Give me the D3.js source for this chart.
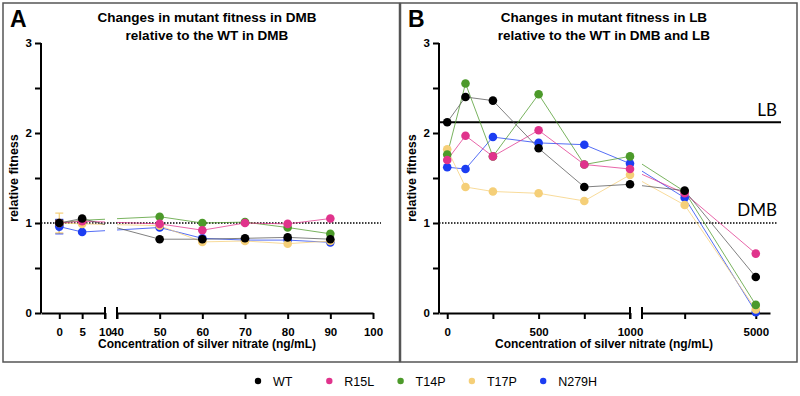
<!DOCTYPE html>
<html><head><meta charset="utf-8">
<script src="https://cdn.jsdelivr.net/npm/d3@7"></script>
<style>body{margin:0;background:#fff}svg{display:block}</style>
</head><body>
<script>
// ---------- data ----------
const seriesNames = ["WT","R15L","T14P","T17P","N279H"];
const seriesColors = ["#000000","#e0338c","#4c9a2a","#f5cf78","#1c3df2"];

const aConc  = [0,5,50,60,70,80,90];
const aWT    = [1.00,1.05,0.82,0.82,0.83,0.84,0.82];
const aR15L  = [1.00,1.02,0.99,0.92,1.00,0.99,1.05];
const aT14P  = [1.00,1.03,1.07,1.00,1.01,0.95,0.88];
const aT17P  = [1.00,0.99,0.97,0.79,0.80,0.77,0.80];
const aN279H = [0.96,0.90,0.95,0.83,0.81,0.81,0.785];
const aErr0  = [0.03,0.02,0.02,0.11,0.08]; // error at concentration 0

const bConc  = [0,100,250,500,750,1000,2500,5000];
const bWT    = [2.12,2.40,2.36,1.83,1.40,1.43,1.36,0.40];
const bR15L  = [1.70,1.97,1.74,2.03,1.65,1.60,1.33,0.66];
const bT14P  = [1.76,2.55,1.74,2.43,1.65,1.74,1.35,0.09];
const bT17P  = [1.82,1.40,1.35,1.33,1.245,1.535,1.20,0.04];
const bN279H = [1.62,1.60,1.955,1.89,1.87,1.66,1.28,0.01];

const lbLevel = 2.12, dmbLevel = 1;

const aTicks1 = [0,5,10], aTicks2 = [40,50,60,70,80,90,100];
const bTicks1 = [0,250,500,750,1000], bTicks2 = [2500,5000];
const bLabels = {0:"0",500:"500",1000:"1000",5000:"5000"};
const yTicks = [0,0.5,1,1.5,2,2.5,3];

// ---------- drawing ----------
const W=800,H=396;
const svg=d3.select("body").append("svg").attr("width",W).attr("height",H);
const FONT="'Liberation Sans', Arial, sans-serif";

// frames
svg.append("rect").attr("x",3).attr("y",3).attr("width",396.5).attr("height",359).attr("fill","none").attr("stroke","#555").attr("stroke-width",1.5);
svg.append("rect").attr("x",400.5).attr("y",3).attr("width",396.5).attr("height",359).attr("fill","none").attr("stroke","#555").attr("stroke-width",1.5);

function panel(cfg){
  const g=svg.append("g");
  const y=d3.scaleLinear().domain([0,3]).range([313,43]);
  const x1=d3.scaleLinear().domain(cfg.d1).range(cfg.r1);
  const x2=d3.scaleLinear().domain(cfg.d2).range(cfg.r2);
  const x=v=> v<=cfg.d1[1]? x1(v): x2(v);

  // panel letter & title
  g.append("text").attr("x",cfg.letterX).attr("y",27).attr("font-family",FONT).attr("font-weight","bold").attr("font-size",23).text(cfg.letter);
  cfg.title.forEach((t,i)=>g.append("text").attr("x",cfg.titleX).attr("y",22+i*17.5).attr("text-anchor","middle")
     .attr("font-family",FONT).attr("font-weight","bold").attr("font-size",13.5).text(t));

  // y axis
  const ya=g.append("g").attr("transform",`translate(${cfg.r1[0]},0)`)
    .call(d3.axisLeft(y).tickValues(yTicks).tickSize(6).tickPadding(3).tickFormat(d=>Number.isInteger(d)?d:""));
  ya.select(".domain").attr("stroke-width",2).attr("d",`M0,${y(0)}V${y(3)}`);
  ya.selectAll(".tick line").attr("stroke-width",2);
  ya.selectAll("text").attr("font-family",FONT).attr("font-weight","bold").attr("font-size",11.5);
  g.append("text").attr("transform",`translate(${cfg.r1[0]-23},${(y(0)+y(3))/2}) rotate(-90)`)
   .attr("text-anchor","middle").attr("font-family",FONT).attr("font-weight","bold").attr("font-size",12.5).text("relative fitness");

  // x axes
  [[x1,cfg.t1,cfg.d1],[x2,cfg.t2,cfg.d2]].forEach(([sc,tv])=>{
    const ax=g.append("g").attr("transform","translate(0,313)")
      .call(d3.axisBottom(sc).tickValues(tv).tickSize(6).tickSizeOuter(0).tickPadding(9).tickFormat(cfg.fmt));
    ax.select(".domain").attr("stroke-width",2);
    ax.selectAll(".tick line").attr("stroke-width",2);
    ax.selectAll("text").attr("font-family",FONT).attr("font-weight","bold").attr("font-size",11.5);
  });
  // break caps
  [cfg.r1[1],cfg.r2[0]].forEach(px=>g.append("line").attr("x1",px).attr("x2",px).attr("y1",307).attr("y2",319).attr("stroke","#000").attr("stroke-width",2));
  g.append("text").attr("x",cfg.axTitleX).attr("y",348).attr("text-anchor","middle").attr("font-family",FONT)
   .attr("font-weight","bold").attr("font-size",12).text("Concentration of silver nitrate (ng/mL)");

  // reference lines
  g.append("line").attr("x1",cfg.r1[0]).attr("x2",cfg.dmbEnd).attr("y1",y(dmbLevel)).attr("y2",y(dmbLevel))
   .attr("stroke","#000").attr("stroke-width",1.6).attr("stroke-dasharray","1.5,1.5");
  if(cfg.lb){
    g.append("line").attr("x1",cfg.r1[0]).attr("x2",781).attr("y1",y(lbLevel)).attr("y2",y(lbLevel)).attr("stroke","#000").attr("stroke-width",2);
    g.append("text").attr("x",777).attr("y",y(lbLevel)-6).attr("text-anchor","end").attr("font-family","Lato, sans-serif").attr("font-size",17).text("LB");
    g.append("text").attr("x",777).attr("y",y(dmbLevel)-7).attr("text-anchor","end").attr("font-family","Lato, sans-serif").attr("font-size",17).text("DMB");
  }

  // clip for the broken axis gap
  const cid="clip"+cfg.letter;
  const cp=svg.append("defs").append("clipPath").attr("id",cid);
  cp.append("rect").attr("x",cfg.r1[0]-10).attr("y",0).attr("width",cfg.r1[1]-cfg.r1[0]+10).attr("height",H);
  cp.append("rect").attr("x",cfg.r2[0]).attr("y",0).attr("width",cfg.r2[1]-cfg.r2[0]+20).attr("height",H);

  const line=d3.line().x((d,i)=>x(cfg.conc[i])).y(d=>y(d));
  const order=[4,3,2,1,0];
  const lg=g.append("g").attr("clip-path",`url(#${cid})`);
  order.forEach(k=>{
    lg.append("path").attr("d",line(cfg.vals[k])).attr("fill","none")
      .attr("stroke",k===0?"#555":seriesColors[k]).attr("stroke-width",1).attr("opacity",0.75);
  });
  // error bars
  if(cfg.err){
    order.forEach(k=>{
      const v=cfg.vals[k][0],e=cfg.err[k],px=x(cfg.conc[0]);
      const eg=g.append("g").attr("stroke",seriesColors[k]).attr("stroke-width",1.2);
      eg.append("line").attr("x1",px).attr("x2",px).attr("y1",y(v-e)).attr("y2",y(v+e));
      eg.append("line").attr("x1",px-4).attr("x2",px+4).attr("y1",y(v-e)).attr("y2",y(v-e));
      eg.append("line").attr("x1",px-4).attr("x2",px+4).attr("y1",y(v+e)).attr("y2",y(v+e));
    });
  }
  order.forEach(k=>{
    g.append("g").selectAll("circle").data(cfg.vals[k]).join("circle")
      .attr("cx",(d,i)=>x(cfg.conc[i])).attr("cy",d=>y(d)).attr("r",4.3).attr("fill",seriesColors[k]);
  });
}

panel({letter:"A",letterX:10,titleX:207,title:["Changes in mutant fitness in DMB","relative to the WT in DMB"],
  d1:[-4,10],r1:[41,105],d2:[40,100],r2:[117,373],t1:aTicks1,t2:aTicks2,fmt:d=>String(d),
  axTitleX:207,dmbEnd:381,conc:aConc,vals:[aWT,aR15L,aT14P,aT17P,aN279H],err:aErr0,lb:false});

panel({letter:"B",letterX:408,titleX:604,title:["Changes in mutant fitness in LB","relative to the WT in DMB and LB"],
  d1:[-45,1000],r1:[439,630],d2:[1000,5500],r2:[642,770],t1:bTicks1,t2:bTicks2,fmt:d=>bLabels[d]||"",
  axTitleX:604,dmbEnd:778,conc:bConc,vals:[bWT,bR15L,bT14P,bT17P,bN279H],lb:true});

// legend
const leg=svg.append("g");
seriesNames.forEach((n,i)=>{
  const cx=258+i*71.3;
  leg.append("circle").attr("cx",cx).attr("cy",381).attr("r",3.2).attr("fill",seriesColors[i]);
  leg.append("text").attr("x",cx+15).attr("y",385.5).attr("font-family",FONT).attr("font-size",12.5).text(n);
});
</script>
</body></html>
